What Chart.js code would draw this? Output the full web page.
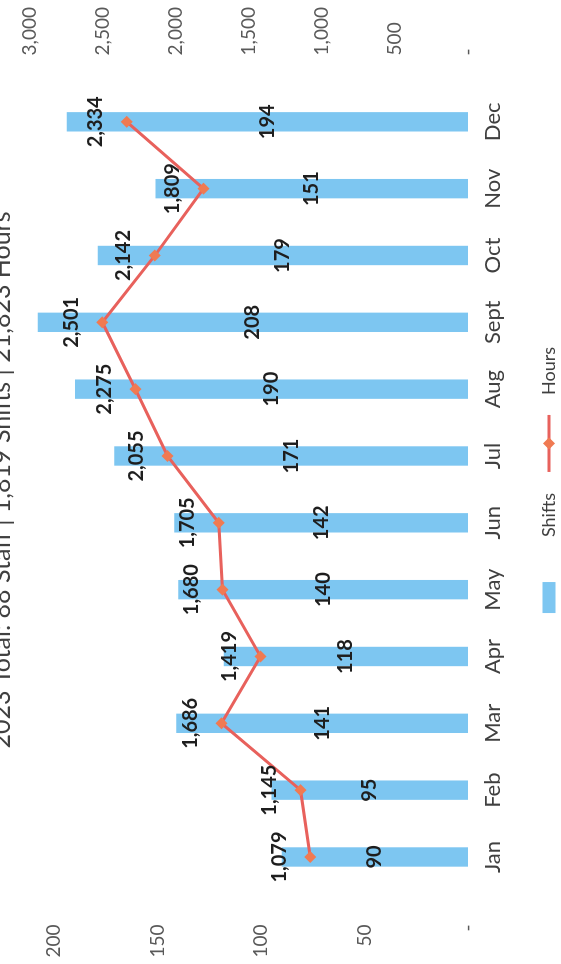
<!DOCTYPE html>
<html>
<head>
<meta charset="utf-8">
<script src="https://cdn.jsdelivr.net/npm/chart.js@4.4.0/dist/chart.umd.min.js"></script>
<style>
  html, body { margin: 0; padding: 0; background: #ffffff; width: 561px; height: 964px; overflow: hidden; }
  #wrap { position: absolute; left: 0; top: 0; width: 964px; height: 600px;
          transform-origin: 0 0; transform: translate(-16px, 964px) rotate(-90deg); }
</style>
</head>
<body>
<div id="wrap"><canvas id="c" width="964" height="600"></canvas></div>
<script>
const titleText = '2023 Total: 88 Staff | 1,819 Shifts | 21,823 Hours';
const months = ['Jan','Feb','Mar','Apr','May','Jun','Jul','Aug','Sept','Oct','Nov','Dec'];
const shifts = [90, 95, 141, 118, 140, 142, 171, 190, 208, 179, 151, 194];
const hours  = [1079, 1145, 1686, 1419, 1680, 1705, 2055, 2275, 2501, 2142, 1809, 2334];
const shiftTicks = [0, 50, 100, 150, 200];
const hourTicks = [0, 500, 1000, 1500, 2000, 2500, 3000];
const seriesNames = ['Hours', 'Shifts'];

const FONT = 'Lato';
const BAR_COLOR = '#7dc6f1';
const LINE_COLOR = '#e8615c';
const POINT_COLOR = '#f07a52';

const fmt = v => v === 0 ? '-' : v.toLocaleString('en-US');

const valueLabels = {
  id: 'valueLabels',
  afterDatasetsDraw(chart) {
    const ctx = chart.ctx;
    const lineMeta = chart.getDatasetMeta(0);
    const barMeta = chart.getDatasetMeta(1);
    ctx.save();
    ctx.font = 'bold 20px ' + FONT;
    ctx.fillStyle = '#1e1e1e';
    ctx.textAlign = 'center';
    ctx.textBaseline = 'middle';
    barMeta.data.forEach((bar, i) => {
      const p = bar.getProps(['x', 'y', 'base'], true);
      ctx.fillText(fmt(shifts[i]), p.x, (p.y + p.base) / 2);
    });
    lineMeta.data.forEach((pt, i) => {
      ctx.fillText(fmt(hours[i]), pt.x, pt.y - 31);
    });
    ctx.restore();
  }
};

const titleAndLegend = {
  id: 'titleAndLegend',
  afterDraw(chart) {
    const ctx = chart.ctx;
    const cx = chart.width / 2;
    ctx.save();
    // title
    ctx.font = '25px ' + FONT;
    ctx.fillStyle = '#404040';
    ctx.textAlign = 'center';
    ctx.textBaseline = 'alphabetic';
    ctx.fillText(titleText, cx + 2, 26);
    // legend
    ctx.font = '18px ' + FONT;
    const wS = ctx.measureText(seriesNames[1]).width;
    const wH = ctx.measureText(seriesNames[0]).width;
    const boxW = 31, gap1 = 45, gap2 = 21, lineW = 57, gap3 = 20;
    const total = boxW + gap1 + wS + gap2 + lineW + gap3 + wH;
    let x = cx + 2 - total / 2;
    const cy = 565;
    ctx.fillStyle = BAR_COLOR;
    ctx.fillRect(x, cy - 6.5, boxW, 13);
    x += boxW + gap1;
    ctx.fillStyle = '#404040';
    ctx.textAlign = 'left';
    ctx.textBaseline = 'middle';
    ctx.fillText(seriesNames[1], x, cy);
    x += wS + gap2;
    ctx.strokeStyle = LINE_COLOR; ctx.lineWidth = 3;
    ctx.beginPath(); ctx.moveTo(x, cy); ctx.lineTo(x + lineW, cy); ctx.stroke();
    const dx = x + lineW / 2;
    ctx.fillStyle = POINT_COLOR;
    ctx.beginPath(); ctx.moveTo(dx, cy - 6); ctx.lineTo(dx + 6, cy); ctx.lineTo(dx, cy + 6); ctx.lineTo(dx - 6, cy); ctx.closePath(); ctx.fill();
    x += lineW + gap3;
    ctx.fillStyle = '#404040';
    ctx.fillText(seriesNames[0], x, cy);
    ctx.restore();
  }
};

new Chart(document.getElementById('c'), {
  type: 'bar',
  data: {
    labels: months,
    datasets: [
      {
        type: 'line', label: seriesNames[0], data: hours, yAxisID: 'y1',
        borderColor: LINE_COLOR, borderWidth: 3, tension: 0,
        pointStyle: 'rectRot', pointRadius: 6, pointBackgroundColor: POINT_COLOR,
        pointBorderColor: POINT_COLOR, pointBorderWidth: 0
      },
      {
        type: 'bar', label: seriesNames[1], data: shifts, yAxisID: 'y',
        backgroundColor: BAR_COLOR, barPercentage: 0.29, categoryPercentage: 1.0
      }
    ]
  },
  options: {
    responsive: false,
    animation: false,
    devicePixelRatio: 1,
    layout: { padding: { left: 0, right: 0, top: 39, bottom: 56 } },
    plugins: {
      tooltip: { enabled: false },
      title: { display: false },
      legend: { display: false }
    },
    scales: {
      x: {
        grid: { display: false, drawTicks: false }, border: { display: false },
        ticks: { font: { family: FONT, size: 22 }, color: '#404040', padding: 12, maxRotation: 0 },
        afterFit(s) { s.height = 60; }
      },
      y: {
        position: 'left', min: 0, max: 212,
        grid: { display: false, drawTicks: false }, border: { display: false },
        ticks: { stepSize: 50, font: { family: FONT, size: 19 }, color: '#595959', padding: 34,
                 callback: v => fmt(v) },
        afterBuildTicks(s) { s.ticks = shiftTicks.map(v => ({ value: v })); },
        afterFit(s) { s.width = 73.6; }
      },
      y1: {
        position: 'right', min: 0, max: 3000,
        grid: { display: false, drawTicks: false }, border: { display: false },
        ticks: { stepSize: 500, font: { family: FONT, size: 19 }, color: '#595959', padding: 33,
                 callback: v => fmt(v) },
        afterBuildTicks(s) { s.ticks = hourTicks.map(v => ({ value: v })); },
        afterFit(s) { s.width = 88.4; }
      }
    }
  },
  plugins: [valueLabels, titleAndLegend]
});
</script>
</body>
</html>
